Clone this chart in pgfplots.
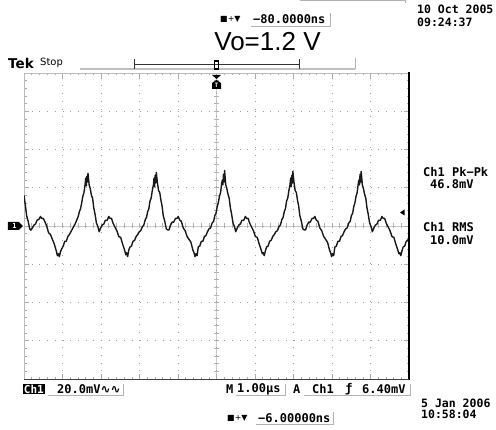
\documentclass[border=0pt]{standalone}
\usepackage{pgfplots}
\pgfplotsset{compat=1.18}
\usepackage{fontspec}
\setmainfont{DejaVu Sans}
\newfontfamily\tek{DejaVu Sans Mono}
\newfontfamily\dvs{DejaVu Sans}
\newfontfamily\ars{Liberation Sans}
\newcommand\tf[1]{\tek\bfseries\fontsize{#1}{#1}\selectfont}

\begin{document}
\begin{tikzpicture}[x=1pt,y=1pt]
\useasboundingbox (-24,-50) rectangle (472,379);

% graticule centre cross (drawn first, under the trace)
\draw[gray!40, line width=0.8] (0,153) -- (385,153);
\draw[gray!40, line width=0.8] (192.5,0) -- (192.5,306);
\foreach \i in {1,...,49} \draw[gray!60, line width=0.6] (\i*7.7,150.5) -- (\i*7.7,155.5);
\foreach \i in {1,...,39} \draw[gray!60, line width=0.6] (190,\i*7.65) -- (195,\i*7.65);

\begin{axis}[
    at={(0,0)}, anchor=south west,
    scale only axis, width=385pt, height=306pt,
    xmin=0, xmax=10, ymin=-80, ymax=80,
    xtick={0,...,10}, ytick={-80,-60,...,80},
    xticklabels={}, yticklabels={},
    minor x tick num=4, minor y tick num=4,
    tick align=inside,
    major tick length=5pt, minor tick length=2.5pt,
    tick style={gray!65, line width=0.6pt},
    axis line style={gray!55, line width=0.8pt},
    grid=major,
    major grid style={gray!75, line width=0.9pt, dash pattern=on 0.9pt off 6.8pt},
  ]
  % Ch1 trace, 20 mV/div, 1 us/div
  \addplot[black!90, line width=1.4pt, line join=round] coordinates {
    (0.000,16) (0.038,10.5) (0.068,5.5) (0.108,2.5) (0.148,-1.5) (0.178,-2.2)
    (0.218,-1) (0.258,0.5) (0.298,1) (0.338,3) (0.388,3.5) (0.428,5)
    (0.458,4) (0.498,4) (0.538,2.5) (0.588,0) (0.638,-3.5) (0.688,-4.5)
    (0.738,-7) (0.788,-9.5) (0.838,-13) (0.868,-15.5) (0.893,-14.5) (0.918,-16)
    (0.948,-13.5) (0.978,-12) (1.018,-10.5) (1.058,-8) (1.098,-8) (1.138,-5.5)
    (1.178,-4.5) (1.218,-3) (1.258,-1.5) (1.298,0) (1.338,1.5) (1.378,3.5)
    (1.408,5) (1.438,7.5) (1.468,9) (1.498,12) (1.528,15.5) (1.558,17.5)
    (1.588,22) (1.603,25) (1.618,21) (1.633,26) (1.648,23)
    (1.662,27.5) (1.692,21.5) (1.722,19.5) (1.752,16) (1.782,14.5) (1.812,9.5)
    (1.842,6.5) (1.882,1.5) (1.922,-0.5) (1.952,-3) (1.992,-1) (2.032,0.5)
    (2.072,1) (2.112,3) (2.162,3) (2.202,5) (2.232,4) (2.272,4)
    (2.312,1.5) (2.362,-0.5) (2.412,-2.5) (2.462,-5.5) (2.512,-6) (2.562,-9.5)
    (2.612,-12.5) (2.642,-15) (2.667,-14) (2.692,-16) (2.722,-12.5) (2.752,-11)
    (2.792,-10.5) (2.832,-8) (2.872,-7.5) (2.912,-5.5) (2.952,-4.5) (2.992,-3)
    (3.032,-2.5) (3.072,-0.5) (3.112,0.5) (3.152,3.5) (3.182,4.5) (3.212,7.5)
    (3.242,9) (3.272,13) (3.302,14.5) (3.332,18.5) (3.362,21.5) (3.377,25)
    (3.392,20.5) (3.407,26.5) (3.422,22.5)
    (3.436,28) (3.466,22.5) (3.496,18.5) (3.526,17.5) (3.556,13.5) (3.586,10.5)
    (3.616,5.5) (3.656,2.5) (3.696,-1.5) (3.726,-2) (3.766,-2) (3.806,0.5)
    (3.846,2) (3.886,2) (3.936,4) (3.976,4) (4.006,5) (4.046,3)
    (4.086,2.5) (4.136,-1) (4.186,-2.5) (4.236,-5.5) (4.286,-7) (4.336,-8.5)
    (4.386,-12.5) (4.416,-14) (4.441,-16) (4.466,-14.5) (4.496,-15.5) (4.526,-11)
    (4.566,-10.5) (4.606,-8) (4.646,-8) (4.686,-5.5) (4.726,-5) (4.766,-3)
    (4.806,-1.5) (4.846,-1) (4.886,1.5) (4.926,2.5) (4.956,5.5) (4.986,6.5)
    (5.016,10) (5.046,12) (5.076,15.5) (5.106,17.5) (5.136,22.5) (5.151,24)
    (5.166,21.5) (5.181,27) (5.196,23)
    (5.210,29) (5.240,21.5) (5.270,19.5) (5.300,16.5) (5.330,14.5) (5.360,9.5)
    (5.390,6.5) (5.430,1.5) (5.470,-0.5) (5.500,-3) (5.540,-1) (5.580,0.5)
    (5.620,1) (5.660,3) (5.710,3) (5.750,5) (5.780,4) (5.820,4)
    (5.860,1.5) (5.910,-0.5) (5.960,-2.5) (6.010,-5.5) (6.060,-6) (6.110,-9.5)
    (6.160,-12.5) (6.190,-14.5) (6.215,-14) (6.240,-15.5) (6.270,-13) (6.300,-11)
    (6.340,-10.5) (6.380,-8) (6.420,-7.5) (6.460,-5.5) (6.500,-4.5) (6.540,-3)
    (6.580,-2.5) (6.620,-0.5) (6.660,0.5) (6.700,3.5) (6.730,4.5) (6.760,7.5)
    (6.790,9) (6.820,13) (6.850,14.5) (6.880,18.5) (6.910,21.5) (6.925,25)
    (6.940,20.5) (6.955,26.5) (6.970,22.5)
    (6.984,28.5) (7.014,22.5) (7.044,18.5) (7.074,17.5) (7.104,13.5) (7.134,10.5)
    (7.164,5.5) (7.204,2.5) (7.244,-1.5) (7.274,-2) (7.314,-2) (7.354,0.5)
    (7.394,2) (7.434,2) (7.484,4) (7.524,4) (7.554,5) (7.594,3)
    (7.634,2.5) (7.684,-1) (7.734,-2.5) (7.784,-5.5) (7.834,-7) (7.884,-8.5)
    (7.934,-12.5) (7.964,-14) (7.989,-16) (8.014,-14.5) (8.044,-15.5) (8.074,-11)
    (8.114,-10.5) (8.154,-8) (8.194,-8) (8.234,-5.5) (8.274,-5) (8.314,-3)
    (8.354,-1.5) (8.394,-1) (8.434,1.5) (8.474,2.5) (8.504,5.5) (8.534,6.5)
    (8.564,10) (8.594,12) (8.624,15.5) (8.654,17.5) (8.684,22.5) (8.699,24)
    (8.714,21.5) (8.729,27) (8.744,23)
    (8.758,28.5) (8.788,21.5) (8.818,19.5) (8.848,16.5) (8.878,14.5) (8.908,9.5)
    (8.938,6.5) (8.978,1.5) (9.018,-0.5) (9.048,-3) (9.088,-1) (9.128,0.5)
    (9.168,1) (9.208,3) (9.258,3) (9.298,5) (9.328,4) (9.368,4)
    (9.408,1.5) (9.458,-0.5) (9.508,-2.5) (9.558,-5.5) (9.608,-6) (9.658,-9.5)
    (9.708,-12.5) (9.738,-14.5) (9.763,-14) (9.788,-15.5) (9.818,-13) (9.848,-11)
    (9.888,-10.5) (9.928,-8) (9.968,-7.5) (10.000,-5.5)
  };
\end{axis}

% frame details
\draw[black, line width=2.4pt] (385,-1) -- (385,307);
\draw[black!75, line width=0.9pt] (0,0) -- (385,0);

% ground marker
\fill[black] (-16,149) -- (-5,149) -- (-1,153) -- (-5,157) -- (-16,157) -- cycle;
\node[text=white, inner sep=0, font=\tf{7}] at (-9.5,153) {1};
% trigger level marker
\fill[black] (376,166.5) -- (380.5,163.5) -- (380.5,169.5) -- cycle;
% trigger position marker
\fill[black] (188,304) -- (197,304) -- (192.5,300) -- cycle;
\fill[black] (188,290) -- (197,290) -- (197,296) -- (192.5,299) -- (188,296) -- cycle;
\node[text=white, inner sep=0, font=\tf{6}] at (192.5,294) {T};

% record ruler
\draw[gray!50, line width=1.6pt] (56,310) -- (331,310);
\draw[black!80, line width=0.7pt] (110,315) -- (275,315);
\draw[black!80, line width=0.7pt] (110,310) -- (110,320);
\draw[black!80, line width=0.7pt] (275,310) -- (275,320);
\draw[gray!60, line width=0.8pt] (331,310) -- (331,321);
\draw[black, line width=1.2pt] (190.5,310) rectangle (194.5,318);

% header
\node[anchor=west, inner sep=0, font=\dvs\fontsize{13.5}{13.5}\selectfont\bfseries] at (-16,316) {Tek};
\node[anchor=west, inner sep=0, font=\dvs\fontsize{10}{10}\selectfont] at (16,316.5) {Stop};
\node[inner sep=0, font=\ars\fontsize{26}{26}\selectfont] at (243.5,337) {Vo=1.2 V};
\node[anchor=west, inner sep=0, font=\dvs\fontsize{8}{8}\selectfont] at (196,360) {■+▼};
\node[anchor=west, inner sep=0, font=\tf{12}] at (229,360) {−80.0000ns};
\draw[gray!60] (227,353) -- (306,353) -- (306,366);
\node[anchor=west, inner sep=0, font=\tf{11.5}] at (393,370) {10 Oct 2005};
\node[anchor=west, inner sep=0, font=\tf{11.5}] at (393,357) {09:24:37};
\draw[gray!60] (276,378.5) -- (381,378.5) -- (381,376);

% measurements
\node[anchor=west, inner sep=0, font=\tf{12}] at (399,206.5) {Ch1 Pk−Pk};
\node[anchor=west, inner sep=0, font=\tf{12}] at (406,195) {46.8mV};
\node[anchor=west, inner sep=0, font=\tf{12}] at (399,152) {Ch1 RMS};
\node[anchor=west, inner sep=0, font=\tf{12}] at (406,139) {10.0mV};

% footer
\node[anchor=west, fill=black, text=white, inner sep=0.8pt, font=\tf{11}] at (-1,-10) {Ch1};
\node[anchor=west, inner sep=0, font=\tf{12}] at (33,-10) {20.0mV{\dvs ∿∿}};
\draw[gray!60] (24,-16) -- (99,-16) -- (99,-5);
\node[anchor=west, inner sep=0, font=\tf{12}] at (202,-10) {M};
\node[anchor=west, inner sep=0, font=\tf{12}] at (213,-10) {1.00µs};
\draw[gray!60] (212,-16) -- (261,-16) -- (261,-5);
\node[anchor=west, inner sep=0, font=\tf{12}] at (269,-10) {A};
\node[anchor=west, inner sep=0, font=\tf{12}] at (288,-10) {Ch1};
\node[anchor=west, inner sep=0, font=\tf{12}] at (321,-10) {ƒ};
\node[anchor=west, inner sep=0, font=\tf{12}] at (338,-10) {6.40mV};
\draw[gray!60] (280,-16) -- (386,-16) -- (386,-5);
\node[anchor=west, inner sep=0, font=\tf{11.5}] at (397,-24) {5 Jan 2006};
\node[anchor=west, inner sep=0, font=\tf{11.5}] at (397,-35) {10:58:04};
\node[anchor=west, inner sep=0, font=\dvs\fontsize{8}{8}\selectfont] at (203,-39) {■+▼};
\node[anchor=west, inner sep=0, font=\tf{12}] at (234,-39) {−6.00000ns};
\draw[gray!60] (232,-45) -- (309,-45) -- (309,-33);
\end{tikzpicture}
\end{document}
